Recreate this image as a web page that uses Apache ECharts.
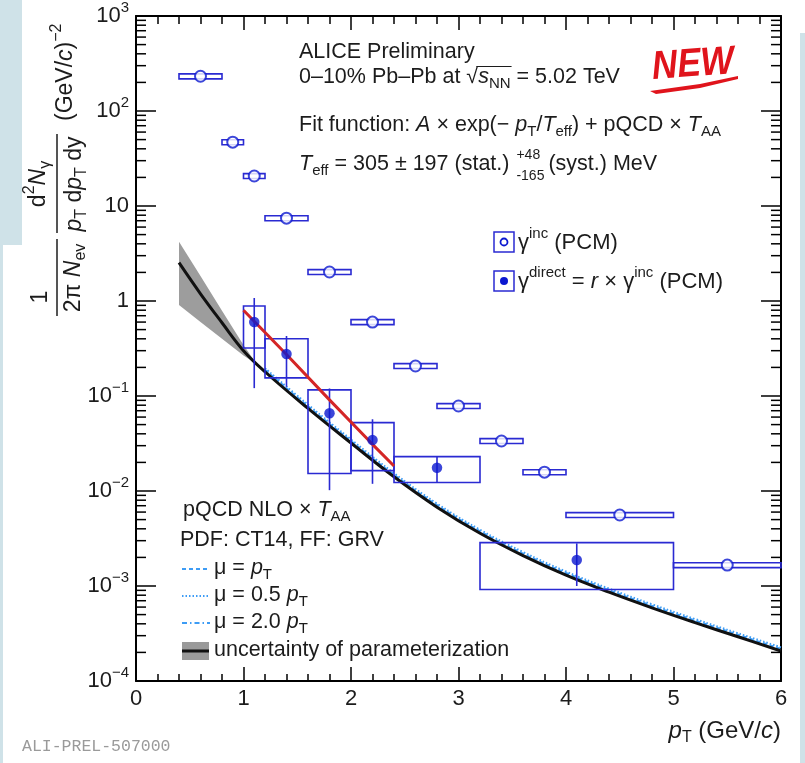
<!DOCTYPE html>
<html>
<head>
<meta charset="utf-8">
<script src="https://cdn.jsdelivr.net/npm/echarts@6/dist/echarts.min.js"></script>
<style>
  html, body { margin: 0; padding: 0; background: #fff; }
  #chart { width: 805px; height: 763px; }
</style>
</head>
<body>
<div id="chart"></div>
<script>
// ---- values ----
// inclusive photons (open circles), pT bin edges and relative syst
const incX   = [0.6, 0.9, 1.1, 1.4, 1.8, 2.2, 2.6, 3.0, 3.4, 3.8, 4.5, 5.5];
const incY   = [232, 47, 20.7, 7.45, 2.02, 0.60, 0.207, 0.0785, 0.0336, 0.0158, 0.00559, 0.00166];
const incLo  = [0.4, 0.8, 1.0, 1.2, 1.6, 2.0, 2.4, 2.8, 3.2, 3.6, 4.0, 5.0];
const incHi  = [0.8, 1.0, 1.2, 1.6, 2.0, 2.4, 2.8, 3.2, 3.6, 4.0, 5.0, 6.0];
const incSys = [0.06, 0.06, 0.06, 0.06, 0.06, 0.06, 0.06, 0.06, 0.06, 0.06, 0.06, 0.06];

// direct photons (filled dots)
const dirX      = [1.1, 1.4, 1.8, 2.2, 2.8, 4.1];
const dirY      = [0.60, 0.277, 0.0658, 0.0344, 0.0176, 0.00188];
const dirStatHi = [1.076, 0.428, 0.120, 0.0569, 0.0233, 0.00281];
const dirStatLo = [0.121, 0.125, 0.0102, 0.0119, 0.01245, 0.0010];
const dirBinLo  = [1.0, 1.2, 1.6, 2.0, 2.4, 3.2];
const dirBinHi  = [1.2, 1.6, 2.0, 2.4, 3.2, 5.0];
const dirSysHi  = [0.885, 0.40, 0.116, 0.0524, 0.0230, 0.00286];
const dirSysLo  = [0.32, 0.155, 0.0153, 0.0164, 0.0123, 0.00092];

// fit (red)
const fitX = [1.0, 1.4, 1.8, 2.2, 2.4];
const fitY = [0.80, 0.273, 0.091, 0.031, 0.0183];

// pQCD NLO x T_AA (black) and its scale variations (light blue)
const pqcdX  = [0.4, 0.6, 0.8, 1.0, 1.2, 1.6, 2.0, 2.4, 2.8, 3.2, 3.6, 4.0, 4.4, 4.8, 5.2, 5.6, 6.0];
const pqcdY  = [2.53, 1.19, 0.59, 0.30, 0.18, 0.074, 0.032, 0.0141, 0.00676, 0.00359, 0.00209, 0.00130, 0.000861, 0.000589, 0.000412, 0.000292, 0.000207];
const varX   = [1.2, 1.6, 2.0, 2.4, 2.8, 3.2, 3.6, 4.0, 4.4, 4.8, 5.2, 5.6, 6.0];
const muPt   = [0.189, 0.078, 0.0336, 0.0148, 0.0071, 0.00377, 0.00219, 0.00137, 0.000904, 0.000618, 0.000433, 0.000307, 0.000217];
const muHalf = [0.196, 0.081, 0.0349, 0.0154, 0.00737, 0.00391, 0.00228, 0.00142, 0.000938, 0.000642, 0.000449, 0.000318, 0.000226];
const muTwo  = [0.184, 0.0755, 0.0326, 0.0144, 0.0069, 0.00366, 0.00213, 0.00133, 0.000878, 0.000601, 0.00042, 0.000298, 0.000211];

// uncertainty of parameterization (grey band)
const bandX  = [0.4, 0.6, 0.8, 1.0, 1.1];
const bandHi = [4.2, 1.83, 0.79, 0.344, 0.235];
const bandLo = [0.91, 0.60, 0.40, 0.267, 0.225];

const xTicks = [0, 1, 2, 3, 4, 5, 6];

// ---- styling ----
const FF = '"Liberation Sans", Arial, Helvetica, sans-serif';
const INK = '#1c1c1c';
const BLUE = '#2a2ad2';
const DOT = '#0b18d0';
const LBLUE = '#3d9cf5';
const TS = 21.5;   // text size of the annotations

const yMinor = [];
for (let e = -4; e < 3; e++) for (let m = 2; m <= 9; m++) yMinor.push(m * Math.pow(10, e));

const ctx = document.createElement('canvas').getContext('2d');
function tw(s, sz, st) { ctx.font = (st || '') + ' ' + sz + 'px ' + FF; return ctx.measureText(s).width; }

function richSet(sz) {
  const s = Math.round(sz * 0.68);
  return {
    i:    { fontFamily: FF, fontSize: sz, fontStyle: 'italic', fill: INK },
    sub:  { fontFamily: FF, fontSize: s, fill: INK, padding: [Math.round(sz * 0.6), 0, 0, 0] },
    sup:  { fontFamily: FF, fontSize: s, fill: INK, padding: [0, 0, Math.round(sz * 0.8), 0] }
  };
}
function label(x, y, text, sz, opt) {
  opt = opt || {};
  return {
    type: 'text', x: x, y: y, rotation: opt.rot || 0, silent: true, z: 10,
    scaleX: opt.sx || 1,
    style: {
      text: text, fontFamily: opt.font || FF, fontSize: sz,
      fontStyle: opt.italic ? 'italic' : 'normal', fontWeight: opt.bold ? 'bold' : 'normal',
      fill: opt.color || INK, align: opt.align || 'left', verticalAlign: 'middle',
      rich: richSet(sz)
    }
  };
}
function hline(x1, y1, x2, y2, color, w, dash) {
  return { type: 'line', silent: true, z: 10, shape: { x1: x1, y1: y1, x2: x2, y2: y2 },
    style: { stroke: color, lineWidth: w, lineDash: dash || null } };
}

// positions inside the text block
const subS = Math.round(TS * 0.68);
const L2pre = '0–10% Pb–Pb at ';
const sqX = 299 + tw(L2pre, TS);
const sqW = tw('√', TS);
const olEnd = sqX + sqW + tw('s', TS, 'italic') + tw('NN', subS) + 1;
const L4w = tw('T', TS, 'italic') + tw('eff', subS) + tw(' = 305 ± 197 (stat.) ', TS);
const scrX = 299 + L4w + 1;

const graphics = [
  // light blue page edges
  { type: 'rect', silent: true, shape: { x: 0, y: 0, width: 22, height: 245 }, style: { fill: '#cfe2e8' } },
  { type: 'rect', silent: true, shape: { x: 0, y: 245, width: 3, height: 518 }, style: { fill: '#cfe2e8' } },
  { type: 'rect', silent: true, shape: { x: 800, y: 33, width: 5, height: 730 }, style: { fill: '#cfe2e8' } },

  // header text
  label(299, 52, 'ALICE Preliminary', TS),
  label(299, 77, L2pre + '√{i|s}{sub|NN} = 5.02 TeV', TS),
  hline(sqX + sqW * 0.85, 66.5, olEnd, 66.5, INK, 1.2),
  label(299, 125, 'Fit function: {i|A} × exp(− {i|p}{sub|T}/{i|T}{sub|eff}) + pQCD × {i|T}{sub|AA}', TS),
  label(299, 164, '{i|T}{sub|eff} = 305 ± 197 (stat.) ', TS),
  label(scrX, 155, '+48', 14),
  label(scrX, 176, '-165', 14),
  label(scrX + tw('-165', 14) + 4, 164, '(syst.) MeV', TS),

  // NEW stamp
  label(693, 65, 'NEW', 40, { bold: true, italic: true, color: '#e0141c', align: 'center', rot: 0.07, sx: 0.88 }),
  { type: 'polygon', silent: true, z: 10, shape: { points: [[650, 91], [700, 84], [738, 76], [738, 79], [700, 88], [656, 94]] },
    style: { fill: '#e0141c' } },

  // upper legend
  { type: 'rect', silent: true, z: 10, shape: { x: 494, y: 232, width: 20, height: 20 }, style: { fill: '#fff', stroke: BLUE, lineWidth: 1.5 } },
  { type: 'circle', silent: true, z: 11, shape: { cx: 504, cy: 242, r: 3.5 }, style: { fill: '#fff', stroke: DOT, lineWidth: 1.8 } },
  label(518, 243, 'γ{sup|inc} (PCM)', 22),
  { type: 'rect', silent: true, z: 10, shape: { x: 494, y: 271, width: 20, height: 20 }, style: { fill: '#fff', stroke: BLUE, lineWidth: 1.5 } },
  { type: 'circle', silent: true, z: 11, shape: { cx: 504, cy: 281, r: 4 }, style: { fill: DOT } },
  label(518, 282, 'γ{sup|direct} = {i|r} × γ{sup|inc} (PCM)', 22),

  // lower legend
  label(183, 510, 'pQCD NLO × {i|T}{sub|AA}', TS),
  label(180, 540, 'PDF: CT14, FF: GRV', TS),
  hline(182, 569, 210, 569, LBLUE, 2, [4, 3]),
  label(214, 568, 'μ = {i|p}{sub|T}', TS),
  hline(182, 596, 210, 596, LBLUE, 2, [1.5, 2]),
  label(214, 595, 'μ = 0.5 {i|p}{sub|T}', TS),
  hline(182, 623, 210, 623, LBLUE, 2, [5, 3, 1.5, 3]),
  label(214, 622, 'μ = 2.0 {i|p}{sub|T}', TS),
  { type: 'rect', silent: true, z: 10, shape: { x: 182, y: 642, width: 27, height: 18 }, style: { fill: '#9a9a9a' } },
  hline(182, 651, 209, 651, '#111', 3),
  label(214, 650, 'uncertainty of parameterization', TS),

  // x-axis title
  label(781, 731, '{i|p}{sub|T} (GeV/{i|c})', 24, { align: 'right' }),

  // y-axis title (rotated)
  {
    type: 'group', x: 0, y: 330, rotation: Math.PI / 2, silent: true,
    children: [
      label(33, 41, '1', 23, { align: 'center' }),
      hline(14, 57, 91, 57, INK, 1.5),
      label(52, 74, '2π {i|N}{sub|ev}', 23, { align: 'center' }),
      label(146, 39, 'd{sup|2}{i|N}{sub|γ}', 23, { align: 'center' }),
      hline(97, 57, 196, 57, INK, 1.5),
      label(146, 75, '{i|p}{sub|T} d{i|p}{sub|T} dy', 23, { align: 'center' }),
      label(209, 66, '(GeV/{i|c}){sup|−2}', 23)
    ]
  },

  // footer id
  label(22, 747, 'ALI-PREL-507000', 16.5, { font: '"Liberation Mono", "DejaVu Sans Mono", monospace', color: '#9a9a9a' })
];

function rectItem(params, api) {
  const a = api.coord([api.value(0), api.value(3)]);
  const b = api.coord([api.value(1), api.value(2)]);
  return {
    type: 'rect',
    shape: { x: a[0], y: a[1], width: b[0] - a[0], height: b[1] - a[1] },
    style: { fill: 'none', stroke: BLUE, lineWidth: 1.6 }
  };
}

const axisLineStyle = { color: '#000', width: 2 };
const tickStyle = { color: '#000', width: 1.5 };

function yLabel(v) {
  const e = Math.round(Math.log10(v));
  if (e === 0) return '1';
  if (e === 1) return '10';
  return '10{sup|' + (e < 0 ? '−' : '') + Math.abs(e) + '}';
}

const curve = (xs, ys) => xs.map((x, i) => [x, ys[i]]);

const option = {
  animation: false,
  backgroundColor: '#fff',
  grid: { left: 136, right: 24, top: 16, bottom: 82, containLabel: false, outerBoundsMode: 'none' },
  xAxis: [
    {
      type: 'value', min: xTicks[0], max: xTicks[xTicks.length - 1], interval: 1, position: 'bottom',
      axisLine: { onZero: false, lineStyle: axisLineStyle },
      axisTick: { inside: true, length: 14, lineStyle: tickStyle },
      minorTick: { show: true, splitNumber: 5, length: 7, lineStyle: tickStyle },
      axisLabel: { fontSize: 22, color: INK, fontFamily: FF, margin: 7 },
      splitLine: { show: false }, minorSplitLine: { show: false }
    },
    {
      type: 'value', min: xTicks[0], max: xTicks[xTicks.length - 1], interval: 1, position: 'top',
      axisLine: { onZero: false, lineStyle: axisLineStyle },
      axisTick: { inside: true, length: 14, lineStyle: tickStyle },
      minorTick: { show: true, splitNumber: 5, length: 8, lineStyle: tickStyle },
      axisLabel: { show: false },
      splitLine: { show: false }
    }
  ],
  yAxis: [
    {
      type: 'log', logBase: 10, min: 1e-4, max: 1e3, position: 'left',
      axisLine: { onZero: false, lineStyle: axisLineStyle },
      axisTick: { inside: true, length: 20, lineStyle: tickStyle },
      axisLabel: {
        fontSize: 22, color: INK, fontFamily: FF, margin: 7, formatter: yLabel,
        rich: { sup: { fontSize: 15, fontFamily: FF, color: INK, padding: [0, 0, 16, 0] } }
      },
      splitLine: { show: false }
    },
    {
      type: 'log', logBase: 10, min: 1e-4, max: 1e3, position: 'right',
      axisLine: { onZero: false, lineStyle: axisLineStyle },
      axisTick: { inside: true, length: 20, lineStyle: tickStyle },
      axisLabel: { show: false },
      splitLine: { show: false }
    }
  ],
  graphic: graphics,
  series: [
    {
      // grey band
      type: 'custom', silent: true, z: 1,
      data: bandX.map((x, i) => [x, bandLo[i], bandHi[i]]),
      encode: { x: 0, y: [1, 2] },
      renderItem: function (params, api) {
        if (params.dataIndex !== 0) return null;
        const pts = [];
        for (let i = 0; i < bandX.length; i++) pts.push(api.coord([bandX[i], bandHi[i]]));
        for (let i = bandX.length - 1; i >= 0; i--) pts.push(api.coord([bandX[i], bandLo[i]]));
        return { type: 'polygon', shape: { points: pts }, style: { fill: '#9d9d9d' } };
      }
    },
    { type: 'line', silent: true, z: 2, symbol: 'none', smooth: 0.4, data: curve(varX, muPt),
      lineStyle: { color: LBLUE, width: 2, type: [4, 3] } },
    { type: 'line', silent: true, z: 2, symbol: 'none', smooth: 0.4, data: curve(varX, muHalf),
      lineStyle: { color: LBLUE, width: 2, type: [1.5, 2] } },
    { type: 'line', silent: true, z: 2, symbol: 'none', smooth: 0.4, data: curve(varX, muTwo),
      lineStyle: { color: LBLUE, width: 2, type: [5, 3, 1.5, 3] } },
    { type: 'line', silent: true, z: 3, symbol: 'none', smooth: 0.4, data: curve(pqcdX, pqcdY),
      lineStyle: { color: '#111', width: 3 } },
    {
      // log minor ticks, left and right
      type: 'custom', silent: true, z: 4,
      data: yMinor.map(v => [0, v]),
      encode: { x: 0, y: 1 },
      renderItem: function (params, api) {
        const p = api.coord([xTicks[0], api.value(1)]);
        const q = api.coord([xTicks[xTicks.length - 1], api.value(1)]);
        return {
          type: 'group', children: [
            { type: 'line', shape: { x1: p[0], y1: p[1], x2: p[0] + 10, y2: p[1] }, style: { stroke: '#000', lineWidth: 1.5 } },
            { type: 'line', shape: { x1: q[0] - 10, y1: q[1], x2: q[0], y2: q[1] }, style: { stroke: '#000', lineWidth: 1.5 } }
          ]
        };
      }
    },
    {
      // inclusive syst boxes
      type: 'custom', silent: true, z: 5,
      data: incX.map((x, i) => [incLo[i], incHi[i], incY[i] * (1 - incSys[i]), incY[i] * (1 + incSys[i])]),
      encode: { x: [0, 1], y: [2, 3] },
      renderItem: rectItem
    },
    {
      // direct syst boxes
      type: 'custom', silent: true, z: 5,
      data: dirX.map((x, i) => [dirBinLo[i], dirBinHi[i], dirSysLo[i], dirSysHi[i]]),
      encode: { x: [0, 1], y: [2, 3] },
      renderItem: rectItem
    },
    {
      // direct stat error bars
      type: 'custom', silent: true, z: 5,
      data: dirX.map((x, i) => [x, dirStatLo[i], dirStatHi[i]]),
      encode: { x: 0, y: [1, 2] },
      renderItem: function (params, api) {
        const a = api.coord([api.value(0), api.value(1)]);
        const b = api.coord([api.value(0), api.value(2)]);
        return { type: 'line', shape: { x1: a[0], y1: a[1], x2: b[0], y2: b[1] }, style: { stroke: BLUE, lineWidth: 1.6 } };
      }
    },
    { type: 'line', silent: true, z: 6, symbol: 'none', data: curve(fitX, fitY),
      lineStyle: { color: '#d42626', width: 3 } },
    { type: 'scatter', silent: true, z: 7, symbol: 'circle', symbolSize: 11,
      data: curve(incX, incY),
      itemStyle: { color: '#fff', borderColor: DOT, borderWidth: 2 } },
    { type: 'scatter', silent: true, z: 7, symbol: 'circle', symbolSize: 10.5,
      data: curve(dirX, dirY),
      itemStyle: { color: DOT } }
  ]
};

const chart = echarts.init(document.getElementById('chart'), null, { renderer: 'canvas' });
chart.setOption(option);
</script>
</body>
</html>
